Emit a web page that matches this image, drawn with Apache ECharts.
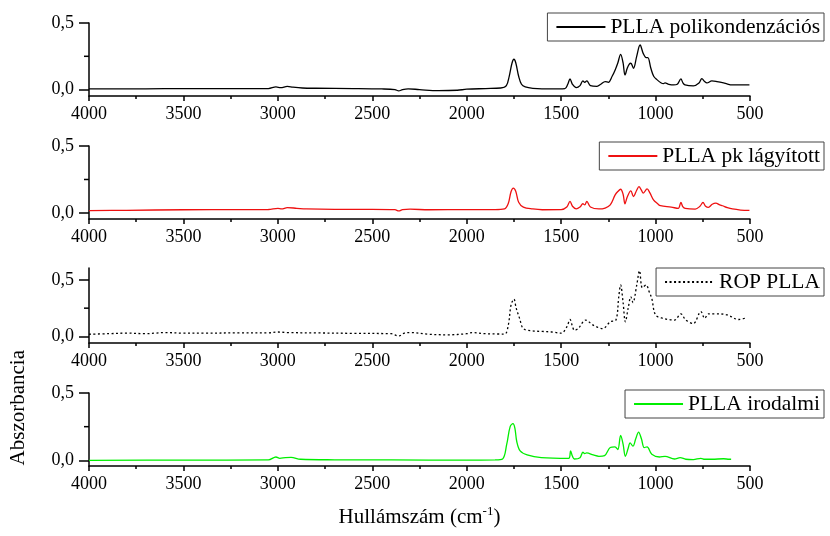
<!DOCTYPE html>
<html><head><meta charset="utf-8">
<script src="https://cdn.jsdelivr.net/npm/echarts@6/dist/echarts.min.js"></script>
<style>html,body{margin:0;padding:0;background:#fff}#c{width:830px;height:536px}</style>
</head><body><div id="c"></div><script>
const seriesNames = ['PLLA polikondenzációs', 'PLLA pk lágyított', 'ROP PLLA', 'PLLA irodalmi'];
const xTicks = [500, 1000, 1500, 2000, 2500, 3000, 3500, 4000];
const yTickLabels = [0, 0.5];
const yMinorTicks = [0.25];

const wn1 = [4000,3800,3600,3400,3200,3050,3010,2985,2950,2920,2870,2800,2600,2450,2380,2360,2340,2310,2250,2150,2050,2000,1900,1820,1790,1775,1760,1750,1740,1725,1710,1690,1650,1550,1480,1465,1453,1440,1420,1400,1385,1375,1364,1345,1310,1290,1267,1250,1230,1214,1200,1185,1172,1162,1150,1140,1131,1117,1100,1082,1065,1050,1041,1025,1010,993,970,958,950,930,905,885,866,855,844,800,770,755,740,728,702,675,640,622,596,550,503];
const ab1 = [0.005,0.005,0.007,0.008,0.008,0.008,0.02,0.015,0.024,0.018,0.012,0.01,0.008,0.005,0.0,-0.01,0.0,0.006,0.0,-0.008,-0.005,0.003,0.008,0.012,0.03,0.1,0.2,0.228,0.2,0.1,0.04,0.02,0.01,0.005,0.008,0.04,0.08,0.04,0.015,0.03,0.065,0.055,0.065,0.03,0.025,0.04,0.06,0.055,0.1,0.148,0.2,0.265,0.2,0.11,0.16,0.19,0.198,0.16,0.25,0.335,0.27,0.24,0.24,0.16,0.1,0.075,0.05,0.045,0.05,0.04,0.035,0.04,0.08,0.05,0.035,0.028,0.05,0.083,0.06,0.05,0.065,0.06,0.05,0.043,0.035,0.035,0.035];

const wn2 = [4000,3800,3500,3200,3050,3000,2980,2950,2900,2850,2700,2500,2380,2360,2340,2300,2200,2000,1850,1800,1780,1765,1753,1740,1725,1700,1650,1600,1500,1470,1453,1440,1420,1400,1385,1375,1364,1345,1300,1267,1240,1214,1200,1185,1172,1162,1150,1131,1117,1100,1088,1075,1065,1045,1030,1011,990,974,917,880,866,855,843,790,765,749,735,720,700,681,660,646,620,593,550,503];
const ab2 = [0.017,0.02,0.024,0.025,0.026,0.035,0.03,0.04,0.035,0.03,0.027,0.027,0.025,0.015,0.025,0.028,0.024,0.025,0.025,0.03,0.07,0.16,0.185,0.16,0.08,0.044,0.03,0.024,0.025,0.045,0.086,0.05,0.03,0.045,0.069,0.06,0.086,0.045,0.03,0.037,0.06,0.135,0.16,0.177,0.14,0.069,0.12,0.165,0.123,0.17,0.197,0.17,0.148,0.18,0.15,0.098,0.07,0.054,0.044,0.034,0.078,0.045,0.034,0.029,0.05,0.078,0.05,0.042,0.065,0.073,0.06,0.054,0.04,0.03,0.022,0.019];

const wn3 = [4000,3900,3800,3700,3650,3600,3500,3400,3200,3050,3000,2950,2800,2600,2400,2360,2330,2300,2200,2100,2000,1970,1900,1800,1780,1765,1750,1738,1720,1700,1650,1600,1550,1500,1470,1453,1440,1430,1410,1370,1330,1280,1240,1210,1195,1185,1172,1160,1145,1131,1120,1100,1085,1070,1050,1035,1020,1000,960,900,866,840,800,760,740,720,680,620,560,520];
const ab3 = [0.02,0.025,0.03,0.025,0.03,0.035,0.03,0.03,0.032,0.032,0.04,0.035,0.032,0.028,0.025,0.005,0.03,0.035,0.02,0.015,0.025,0.035,0.025,0.022,0.1,0.28,0.33,0.25,0.16,0.07,0.05,0.045,0.04,0.03,0.085,0.15,0.09,0.055,0.07,0.145,0.1,0.07,0.13,0.145,0.35,0.455,0.3,0.13,0.25,0.35,0.3,0.45,0.58,0.43,0.455,0.4,0.335,0.19,0.16,0.145,0.2,0.145,0.115,0.22,0.16,0.2,0.2,0.19,0.15,0.165];

const wn4 = [4000,3500,3050,3010,2990,2960,2930,2880,2700,2400,2000,1850,1810,1788,1770,1755,1745,1735,1717,1680,1605,1460,1450,1440,1430,1400,1385,1375,1365,1330,1300,1270,1240,1215,1200,1185,1172,1160,1145,1135,1120,1105,1090,1075,1060,1045,1020,980,950,900,870,840,800,760,740,700,640,610,600];
const ab4 = [0.0,0.002,0.003,0.025,0.015,0.02,0.022,0.008,0.004,0.003,0.002,0.003,0.01,0.12,0.25,0.272,0.24,0.14,0.07,0.04,0.02,0.015,0.07,0.03,0.01,0.02,0.06,0.05,0.055,0.04,0.03,0.035,0.095,0.1,0.08,0.185,0.12,0.03,0.09,0.13,0.105,0.16,0.21,0.16,0.095,0.1,0.045,0.025,0.03,0.01,0.02,0.008,0.005,0.015,0.008,0.008,0.012,0.008,0.008];

const wns = [wn1, wn2, wn3, wn4];
const abs = [ab1, ab2, ab3, ab4];
const colors = ['#000000', '#ee1111', '#000000', '#00ee00'];
const lineTypes = ['solid', 'solid', [2, 2.5], 'solid'];

const FONT = 'Liberation Serif';
const grids = [
  {top: 23, height: 73, ymin: -0.048, ymax: 0.5, legTop: 13},
  {top: 146, height: 73, ymin: -0.045, ymax: 0.5, legTop: 142},
  {top: 268, height: 75, ymin: -0.057, ymax: 0.604, legTop: 268},
  {top: 393, height: 73, ymin: -0.042, ymax: 0.5, legTop: 390}
];

const titleGraphic = {
  id: 'ytitle', type: 'text', left: 8, top: 350, rotation: Math.PI / 2,
  style: {text: 'Abszorbancia', font: '21px "Liberation Serif"', fill: '#000'}
};

const option = {
  backgroundColor: '#fff',
  animation: false,
  grid: [], xAxis: [], yAxis: [], series: [], legend: [],
  graphic: [titleGraphic]
};

const black = {color: '#000', width: 1.5};
grids.forEach((g, i) => {
  option.grid.push({left: 89, right: 80, top: g.top, height: g.height});
  const xa = {
    type: 'value', gridIndex: i, min: 500, max: 4000, interval: 500, inverse: true,
    axisLine: {show: true, onZero: false, lineStyle: black},
    axisTick: {show: true, length: 5, lineStyle: black},
    minorTick: {show: true, splitNumber: 2, length: 3, lineStyle: black},
    axisLabel: {color: '#000', fontFamily: FONT, fontSize: 18, margin: 9, formatter: v => String(v)},
    splitLine: {show: false}
  };
  if (i === 3) {
    xa.name = '{a|Hullámszám (cm}{s|-1}{a|)}';
    xa.nameLocation = 'middle';
    xa.nameGap = 40;
    xa.nameTextStyle = {
      rich: {
        a: {fontFamily: FONT, fontSize: 21, color: '#000', lineHeight: 22},
        s: {fontFamily: FONT, fontSize: 13, color: '#000', padding: [0, 0, 10, 0], lineHeight: 22}
      }
    };
  }
  option.xAxis.push(xa);
  option.yAxis.push({
    type: 'value', gridIndex: i, min: g.ymin, max: g.ymax, position: 'left',
    axisLine: {show: true, onZero: false, lineStyle: black},
    axisTick: {show: true, length: 10, customValues: yTickLabels, lineStyle: black},
    axisLabel: {color: '#000', fontFamily: FONT, fontSize: 18, margin: 15, customValues: yTickLabels,
      formatter: v => v.toFixed(1).replace('.', ',')},
    splitLine: {show: false}
  });
  option.series.push({
    name: seriesNames[i], type: 'line', xAxisIndex: i, yAxisIndex: i,
    data: wns[i].map((w, k) => [w, abs[i][k]]),
    symbol: 'none', smooth: 0.35,
    lineStyle: {color: colors[i], width: 1.3, type: lineTypes[i]},
    itemStyle: {color: colors[i]}
  });
  option.legend.push({
    data: [seriesNames[i]], right: 6, top: g.legTop,
    orient: 'horizontal',
    backgroundColor: '#fff',
    borderColor: '#444', borderWidth: 1, borderRadius: 0,
    padding: [3, 4, 3, 8],
    itemWidth: 49, itemHeight: 14,
    itemStyle: {opacity: 0},
    lineStyle: {opacity: 1},
    textStyle: {fontFamily: FONT, fontSize: 21.5, color: '#000'},
    selectedMode: false
  });
});

const chart = echarts.init(document.getElementById('c'), null, {renderer: 'canvas'});
chart.setOption(option);

// minor y ticks (0.25) placed through the library's own scales
const minorTickGraphics = [];
grids.forEach((g, i) => {
  const xAxisPx = chart.convertToPixel({xAxisIndex: i}, 4000);
  yMinorTicks.forEach((v, k) => {
    const yPx = chart.convertToPixel({yAxisIndex: i}, v);
    minorTickGraphics.push({
      id: 'mt' + i + '_' + k, type: 'line', z: 10,
      shape: {x1: xAxisPx - 5, y1: yPx, x2: xAxisPx, y2: yPx},
      style: {stroke: '#000', lineWidth: 1.5}
    });
  });
});
chart.setOption({graphic: [titleGraphic].concat(minorTickGraphics)});
</script></body></html>
